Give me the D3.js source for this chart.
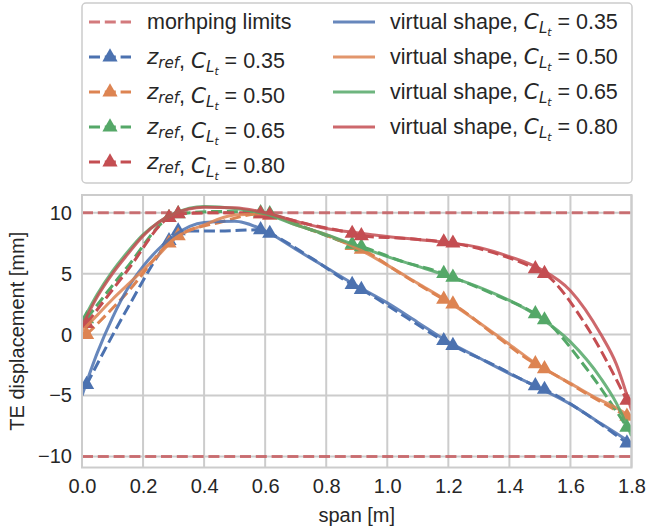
<!DOCTYPE html>
<html>

<head>
  <script src="https://d3js.org/d3.v7.min.js"></script>
  <style>
    body {
      margin: 0;
      background: #fff;
      font-family: 'Liberation Sans', Arial, sans-serif;
    }

    svg {
      display: block;
    }
  </style>
</head>

<body>
  <svg width="647" height="529"></svg>
</body>
<script>

  // marker positions on the z_ref curves and the points between them
  var markX = [0.015, 0.285, 0.315, 0.585, 0.615, 0.885, 0.915, 1.185, 1.215, 1.485, 1.515, 1.785];
  var midX = [0.15, 0.45, 0.75, 1.05, 1.35, 1.65];

  var zref035 = [-4.1, 7.7, 8.5, 8.6, 8.3, 4.1, 3.7, -0.5, -0.9, -4.2, -4.5, -8.9];
  var zref035mid = [2.2, 8.5, 6.3, 1.6, -2.5, -6.5];
  var zref050 = [0.0, 7.5, 8.1, 9.9, 9.8, 7.3, 7.0, 2.9, 2.5, -2.4, -2.8, -6.7];
  var zref050mid = [3.5, 9.2, 8.6, 4.9, 0.0, -4.8];
  var zref065 = [1.3, 9.6, 9.9, 10.0, 9.9, 7.4, 7.2, 5.0, 4.7, 1.7, 1.2, -7.6];
  var zref065mid = [5.6, 10.1, 8.6, 6.0, 3.3, -2.7];
  var zref080 = [0.9, 9.6, 9.9, 9.9, 9.8, 8.3, 8.1, 7.6, 7.5, 5.4, 5.0, -5.4];
  var zref080mid = [5.3, 10.0, 9.0, 7.9, 6.7, 0.8];

  // virtual shape curves
  var vsX = [0, 0.05, 0.1, 0.15, 0.2, 0.25, 0.3, 0.4, 0.5, 0.6, 0.7, 0.8, 0.9, 1.0, 1.1, 1.2, 1.3, 1.4, 1.5, 1.6, 1.7, 1.75, 1.8];
  var vs035 = [-5.0, -1.5, 1.4, 3.8, 5.6, 7.0, 8.1, 9.2, 9.3, 8.5, 7.0, 5.5, 4.0, 2.6, 1.0, -0.6, -1.9, -3.2, -4.4, -5.7, -7.3, -8.1, -8.9];
  var vs050 = [0.3, 1.6, 2.9, 4.1, 5.3, 6.5, 7.8, 9.0, 9.8, 9.9, 9.0, 8.2, 7.1, 5.7, 4.2, 2.7, 1.0, -0.8, -2.6, -4.0, -5.4, -6.0, -6.8];
  var vs065 = [1.0, 3.3, 5.2, 6.8, 8.2, 9.2, 9.9, 10.5, 10.35, 9.9, 9.0, 8.2, 7.3, 6.4, 5.6, 4.8, 3.9, 2.8, 1.4, -0.6, -3.6, -5.6, -8.3];
  var vs080 = [0.7, 3.1, 5.0, 6.6, 8.1, 9.2, 9.9, 10.45, 10.4, 10.0, 9.3, 8.7, 8.35, 8.05, 7.8, 7.55, 7.15, 6.4, 5.4, 3.6, 0.0, -2.4, -6.2];

  var cltLabels = ["0.35", "0.50", "0.65", "0.80"];
  var colors = ["#4C72B0", "#DD8452", "#55A868", "#C44E52"];
  var limits = [10, -10];
  var xTicks = [0, 0.2, 0.4, 0.6, 0.8, 1.0, 1.2, 1.4, 1.6, 1.8];
  var yTicks = [-10, -5, 0, 5, 10];

  var zrefMarks = [zref035, zref050, zref065, zref080];
  var zrefMids = [zref035mid, zref050mid, zref065mid, zref080mid];
  var vsSeries = [vs035, vs050, vs065, vs080];

  var svg = d3.select("svg"),
    margin = { left: 82, right: 15.5, top: 195, bottom: 61.5 },
    width = +svg.attr("width") - margin.left - margin.right,
    height = +svg.attr("height") - margin.top - margin.bottom;

  var x = d3.scaleLinear().domain([0, 1.8]).range([0, width]);
  var y = d3.scaleLinear().domain([-10.9, 11.45]).range([height, 0]);

  var grid = "#cccccc", ink = "#262626", fs = 20, lfs = 21.5;
  var mathFont = "'DejaVu Sans', sans-serif";
  var dash = "11,4.8";

  var g = svg.append("g").attr("transform", "translate(" + margin.left + "," + margin.top + ")");

  svg.append("defs").append("clipPath").attr("id", "clip")
    .append("rect").attr("width", width).attr("height", height);

  // grid
  g.append("g").selectAll("line").data(xTicks).enter().append("line")
    .attr("x1", function (d) { return x(d); }).attr("x2", function (d) { return x(d); })
    .attr("y1", 0).attr("y2", height)
    .attr("stroke", grid).attr("stroke-width", 2);
  g.append("g").selectAll("line").data(yTicks).enter().append("line")
    .attr("y1", function (d) { return y(d); }).attr("y2", function (d) { return y(d); })
    .attr("x1", 0).attr("x2", width)
    .attr("stroke", grid).attr("stroke-width", 2);

  // axes (labels only, seaborn whitegrid style)
  var xAxis = g.append("g").attr("transform", "translate(0," + height + ")")
    .call(d3.axisBottom(x).tickValues(xTicks).tickFormat(d3.format(".1f")).tickSize(0).tickPadding(11));
  var yAxis = g.append("g")
    .call(d3.axisLeft(y).tickValues(yTicks).tickFormat(function (d) { return d < 0 ? "\u2212" + Math.abs(d) : d; }).tickSize(0).tickPadding(10));
  [xAxis, yAxis].forEach(function (a) {
    a.select(".domain").remove();
    a.selectAll("text").attr("fill", ink).attr("font-size", fs).attr("font-family", "'Liberation Sans', Arial, sans-serif");
  });

  var plot = g.append("g").attr("clip-path", "url(#clip)");

  // morphing limits
  plot.selectAll(".lim").data(limits).enter().append("line")
    .attr("x1", 0).attr("x2", width)
    .attr("y1", function (d) { return y(d); }).attr("y2", function (d) { return y(d); })
    .attr("stroke", colors[3]).attr("stroke-opacity", 0.75).attr("stroke-width", 3)
    .attr("stroke-dasharray", dash);

  var line = d3.line().x(function (d) { return x(d[0]); }).y(function (d) { return y(d[1]); })
    .curve(d3.curveMonotoneX);
  var tri = d3.symbol().type(d3.symbolTriangle).size(100);

  // z_ref curves
  zrefMarks.forEach(function (vals, i) {
    var pts = markX.map(function (xv, j) { return [xv, vals[j]]; })
      .concat(midX.map(function (xv, j) { return [xv, zrefMids[i][j]]; }))
      .sort(function (a, b) { return a[0] - b[0]; });
    plot.append("path").datum(pts)
      .attr("d", line).attr("fill", "none")
      .attr("stroke", colors[i]).attr("stroke-width", 3).attr("stroke-dasharray", dash);
    plot.selectAll(".m" + i).data(markX.map(function (xv, j) { return [xv, vals[j]]; }))
      .enter().append("path")
      .attr("d", tri)
      .attr("transform", function (d) { return "translate(" + x(d[0]) + "," + y(d[1]) + ")"; })
      .attr("fill", colors[i]);
  });

  // virtual shapes
  vsSeries.forEach(function (vals, i) {
    plot.append("path").datum(vsX.map(function (xv, j) { return [xv, vals[j]]; }))
      .attr("d", line).attr("fill", "none")
      .attr("stroke", colors[i]).attr("stroke-opacity", 0.85).attr("stroke-width", 3);
  });

  // frame
  g.append("rect").attr("width", width).attr("height", height)
    .attr("fill", "none").attr("stroke", grid).attr("stroke-width", 2);

  // axis titles
  g.append("text").attr("x", width / 2).attr("y", height + 54)
    .attr("text-anchor", "middle").attr("fill", ink).attr("font-size", fs)
    .text("span [m]");
  svg.append("text")
    .attr("transform", "translate(24," + (margin.top + height / 2) + ") rotate(-90)")
    .attr("text-anchor", "middle").attr("fill", ink).attr("font-size", fs)
    .text("TE displacement [mm]");

  // legend
  var leg = svg.append("g");
  leg.append("rect").attr("x", 82).attr("y", 3).attr("width", 550).attr("height", 180)
    .attr("rx", 4).attr("fill", "#fff").attr("fill-opacity", 0.8)
    .attr("stroke", grid).attr("stroke-width", 1.5);

  var rowY = function (r) { return 22 + r * 35; };

  function mi(t, txt, size, dy) {
    return t.append("tspan").attr("font-family", mathFont).attr("font-style", "italic")
      .attr("font-size", size).attr("dy", dy).text(txt);
  }

  function cltText(t, lead, val) {
    lead(t);
    t.append("tspan").text(", ");
    mi(t, "C", lfs, 0);
    mi(t, "L", lfs * 0.7, 4);
    mi(t, "t", lfs * 0.5, 3);
    t.append("tspan").attr("dy", -7).text(" = " + val);
  }

  function handle(x0, yy, col, dashed, marker) {
    leg.append("line").attr("x1", x0).attr("x2", x0 + 42).attr("y1", yy).attr("y2", yy)
      .attr("stroke", col).attr("stroke-width", 3)
      .attr("stroke-opacity", dashed === "lim" ? 0.75 : (dashed ? 1 : 0.85))
      .attr("stroke-dasharray", dashed ? dash : null);
    if (marker) {
      leg.append("path").attr("d", tri).attr("fill", col)
        .attr("transform", "translate(" + (x0 + 21) + "," + yy + ")");
    }
  }

  function legText(x0, yy) {
    return leg.append("text").attr("x", x0).attr("y", yy + 7)
      .attr("fill", ink).attr("font-size", lfs);
  }

  handle(89, rowY(0), colors[3], "lim", false);
  legText(147, rowY(0)).text("morhping limits");

  cltLabels.forEach(function (lab, i) {
    handle(89, rowY(i + 1), colors[i], true, true);
    cltText(legText(147, rowY(i + 1)), function (t) {
      mi(t, "z", lfs, 0);
      mi(t, "ref", lfs * 0.7, 4);
      t.append("tspan").attr("dy", -4).text("");
    }, lab);
  });

  cltLabels.forEach(function (lab, i) {
    handle(333, rowY(i), colors[i], false, false);
    cltText(legText(390, rowY(i)), function (t) {
      t.append("tspan").text("virtual shape");
    }, lab);
  });

</script>

</html>
